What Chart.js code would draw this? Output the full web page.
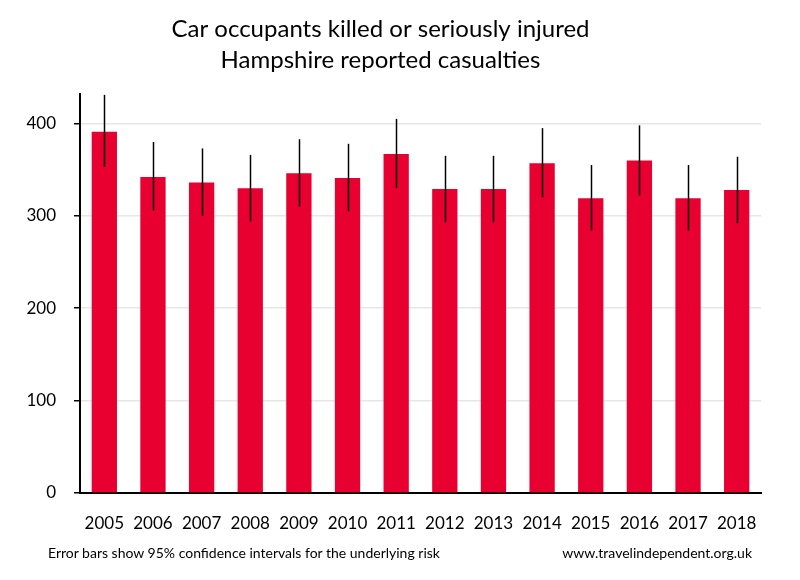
<!DOCTYPE html>
<html lang="en">
<head>
    <meta charset="UTF-8">
    <title>Car occupants killed or seriously injured</title>
    <script src="https://cdn.jsdelivr.net/npm/chart.js"></script>
    <style>
        body {
            margin: 0;
            background: white;
            font-family: Lato, sans-serif;
        }

        .wrap {
            position: relative;
            width: 800px;
            height: 580px;
        }

        .note {
            position: absolute;
            top: 544px;
            font-size: 14px;
            color: #000;
            white-space: nowrap;
        }
    </style>
</head>
<body>

    <div class="wrap">
        <canvas id="ksiChart" width="800" height="580"></canvas>
        <div class="note" style="left: 48px;">Error bars show 95% confidence intervals for the underlying risk</div>
        <div class="note" style="right: 48px;">www.travelindependent.org.uk</div>
    </div>

    <script>
        const years = ['2005', '2006', '2007', '2008', '2009', '2010', '2011',
                       '2012', '2013', '2014', '2015', '2016', '2017', '2018'];
        const casualties = [391, 342, 336, 330, 346, 341, 367, 329, 329, 357, 319, 360, 319, 328];
        const ciLow  = [353, 306, 300, 294, 310, 305, 330, 293, 293, 320, 284, 322, 284, 292];
        const ciHigh = [431, 380, 373, 366, 383, 378, 405, 365, 365, 395, 355, 398, 355, 364];
        const yTicks = [0, 100, 200, 300, 400];

        // draws the confidence interval lines on top of the bars
        const errorBars = {
            id: 'errorBars',
            afterDatasetsDraw(chart) {
                const ctx = chart.ctx;
                const x = chart.scales.x;
                const y = chart.scales.y;
                ctx.save();
                ctx.strokeStyle = '#000';
                ctx.lineWidth = 1.5;
                for (let i = 0; i < years.length; i++) {
                    const px = Math.round(x.getPixelForValue(i)) + 0.5;
                    ctx.beginPath();
                    ctx.moveTo(px, y.getPixelForValue(ciHigh[i]));
                    ctx.lineTo(px, y.getPixelForValue(ciLow[i]));
                    ctx.stroke();
                }
                ctx.restore();
            }
        };

        const ctx = document.getElementById('ksiChart').getContext('2d');

        new Chart(ctx, {
            type: 'bar',
            data: {
                labels: years,
                datasets: [{
                    label: 'Car occupants KSI',
                    data: casualties,
                    backgroundColor: '#e80030',
                    barPercentage: 0.52,
                    categoryPercentage: 1
                }]
            },
            options: {
                responsive: false,
                animation: false,
                layout: { padding: { left: 0, right: 39, top: 0, bottom: 0 } },
                plugins: {
                    legend: { display: false },
                    tooltip: { enabled: false },
                    title: {
                        display: true,
                        text: ['Car occupants killed or seriously injured', 'Hampshire reported casualties'],
                        color: '#000',
                        font: { family: 'Lato', size: 24, weight: 'normal', lineHeight: 1.29 },
                        padding: { top: 14, bottom: 18 }
                    }
                },
                scales: {
                    x: {
                        grid: { display: false },
                        border: { color: '#000', width: 2 },
                        ticks: { color: '#000', padding: 12, font: { family: 'Lato', size: 17 } },
                        afterFit(scale) { scale.height = 87; }
                    },
                    y: {
                        min: 0,
                        max: 432,
                        border: { color: '#000', width: 2 },
                        grid: { color: '#e6e6e6', lineWidth: 1.5, tickColor: '#000', tickLength: 6 },
                        ticks: { color: '#000', padding: 18, font: { family: 'Lato', size: 17 } },
                        afterBuildTicks(scale) {
                            scale.ticks = yTicks.map(v => ({ value: v }));
                        },
                        afterFit(scale) { scale.width = 80; }
                    }
                }
            },
            plugins: [errorBars]
        });
    </script>

</body>
</html>
